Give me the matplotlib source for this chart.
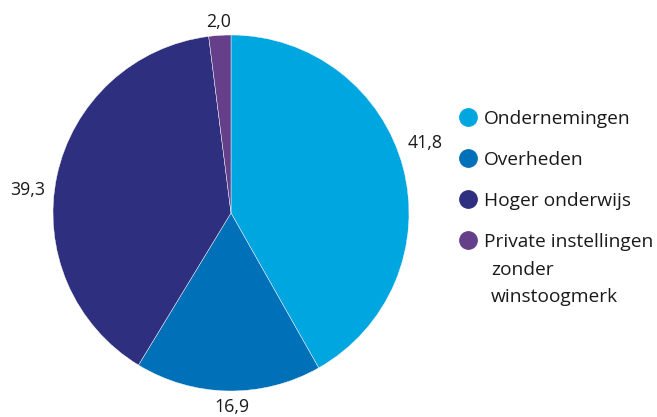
import matplotlib.pyplot as plt
from matplotlib.lines import Line2D

plt.rcParams['font.family'] = ['Open Sans', 'DejaVu Sans']

# aandeel per sector (%)
sectoren = ['Ondernemingen', 'Overheden', 'Hoger onderwijs', 'Private instellingen']
waarden = [41.8, 16.9, 39.3, 2.0]
labels = ['41,8', '16,9', '39,3', '2,0']
kleuren = ['#00a6e0', '#0070b8', '#2e2f7e', '#653f8a']

fig = plt.figure(figsize=(6.57, 4.17), dpi=100)
ax = fig.add_axes([0, 0, 1, 1])

# pie in pixel-achtige coordinaten
ax.pie(waarden, colors=kleuren, startangle=90, counterclock=False,
       center=(231, 204), radius=178, frame=True,
       wedgeprops=dict(edgecolor='white', linewidth=0.3))
ax.set_xlim(0, 657)
ax.set_ylim(0, 417)
ax.set_aspect('equal')
ax.axis('off')

# waarde-labels
label_pos = [(425, 274), (232, 10), (28, 227), (219, 395)]
for (x, y), t in zip(label_pos, labels):
    ax.text(x, y, t, fontsize=12.8, ha='center', va='center', color='#1a1a1a')

# legenda
handles = [Line2D([], [], marker='o', linestyle='', markersize=12.5,
                  markerfacecolor=k, markeredgecolor=k) for k in kleuren]
fig.legend(handles, sectoren, loc='upper left', bbox_to_anchor=(0.686, 0.755),
           frameon=False, fontsize=13.8, handletextpad=0.35, labelspacing=1.2,
           handlelength=1.0, labelcolor='#1a1a1a', borderaxespad=0)
ax.text(491, 147, 'zonder', fontsize=13.8, va='center', color='#1a1a1a')
ax.text(491, 120, 'winstoogmerk', fontsize=13.8, va='center', color='#1a1a1a')

fig.savefig('out.png', dpi=100)
